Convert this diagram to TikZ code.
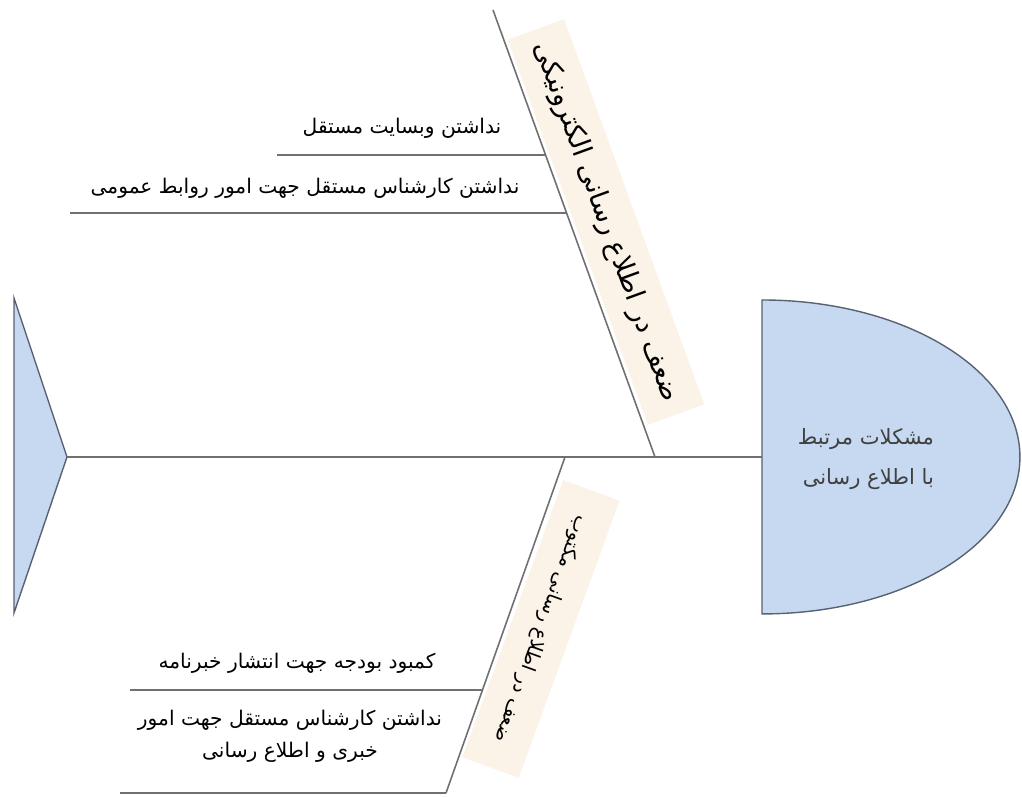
\documentclass[tikz,border=0pt]{standalone}
\usepackage{fontspec}
\newfontfamily\arabicfont[Script=Arabic]{DejaVu Sans}
\TeXXeTstate=1
\usepackage{xcolor}
\definecolor{fishblue}{RGB}{198,217,241}
\definecolor{fishedge}{RGB}{88,98,115}
\definecolor{bandbeige}{RGB}{251,242,232}
\definecolor{bonegray}{RGB}{112,112,112}
\tikzset{%
	bone/.style={
		draw=bonegray,
		line width=0.9pt
	},
	fishpart/.style={
		draw=fishedge,
		fill=fishblue,
		line width=0.8pt
	},
	cause/.style={
		font=\arabicfont\fontsize{11.5}{18}\selectfont,
		align=center,
		inner sep=0pt
	},
	band/.style={
		fill=bandbeige,
		minimum height=1.2cm,
		inner sep=0pt
	},
}

\begin{document}
\begin{tikzpicture}[x=0.02cm, y=0.02cm]
	\useasboundingbox (0,0) rectangle (1022,797);
	% tail and head
	\draw[fishpart] (14,499) -- (67,340) -- (14,184) -- cycle;
	\draw[fishpart] (762,497) arc[start angle=90, end angle=-90, x radius=5.16cm, y radius=3.14cm] -- cycle;
	\node[font=\arabicfont\fontsize{12}{23}\selectfont, text=black!75, align=right] (effect) at (866,338)
		{\beginR مشکلات مرتبط\endR\\\beginR با اطلاع رسانی\endR};
	% spine
	\coordinate (tail) at (67,340);
	\coordinate (head) at (762,340);
	\draw[bone] (tail) -- (head);
	% bones
	\coordinate (topend) at (493,787);
	\coordinate (topfoot) at (655,340);
	\coordinate (botfoot) at (565,340);
	\coordinate (botend) at (446,4);
	\node[band, minimum width=8.2cm, rotate=-70, font=\arabicfont\fontsize{15.5}{18}\selectfont] (elec) at (606,575)
		{\beginR ضعف در اطلاع رسانی الکترونیکی\endR};
	\node[band, minimum width=5.9cm, rotate=-110, font=\arabicfont\fontsize{11}{14}\selectfont] (print) at (541,168)
		{\beginR ضعف در اطلاع رسانی مکتوب\endR};
	\draw[bone] (topend) -- (topfoot);
	\draw[bone] (botfoot) -- (botend);
	% causes
	\coordinate (c1a) at (277,642);
	\coordinate (c1b) at (545.6,642);
	\coordinate (c2a) at (70,584);
	\coordinate (c2b) at (566.6,584);
	\coordinate (c3a) at (130,107);
	\coordinate (c3b) at (482.5,107);
	\coordinate (c4a) at (120,4);
	\coordinate (c4b) at (446,4);
	\draw[bone] (c1a) -- (c1b);
	\draw[bone] (c2a) -- (c2b);
	\draw[bone] (c3a) -- (c3b);
	\draw[bone] (c4a) -- (c4b);
	\node[cause] (web) at (402,669) {\beginR نداشتن وبسایت مستقل\endR};
	\node[cause] (pr) at (305,609) {\beginR نداشتن کارشناس مستقل جهت امور روابط عمومی\endR};
	\node[cause] (budget) at (297,134) {\beginR کمبود بودجه جهت انتشار خبرنامه\endR};
	\node[cause] (news) at (290,61)
		{\beginR نداشتن کارشناس مستقل جهت امور\endR\\\beginR خبری و اطلاع رسانی\endR};
\end{tikzpicture}
\end{document}
